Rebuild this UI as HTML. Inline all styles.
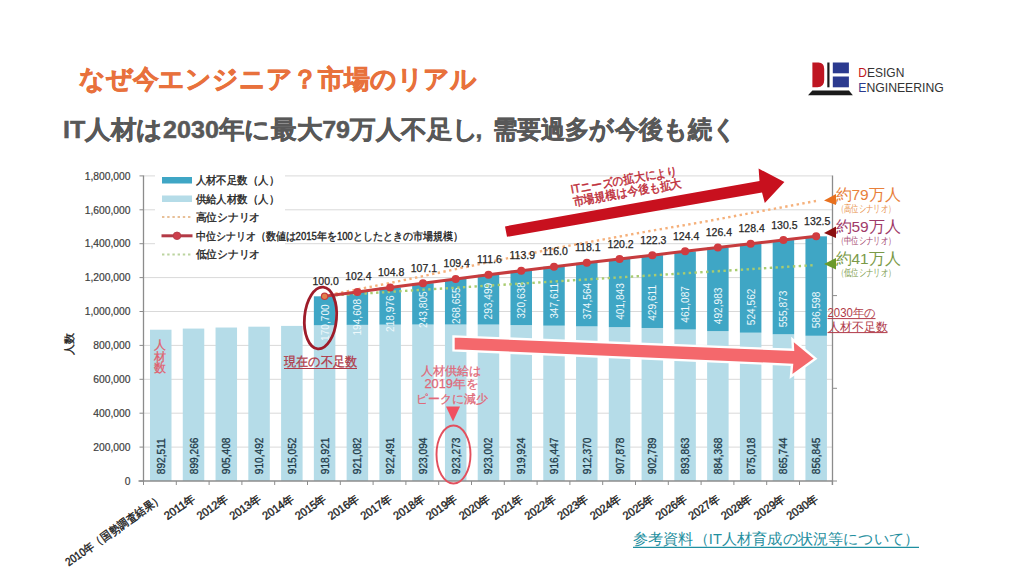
<!DOCTYPE html>
<html><head><meta charset="utf-8">
<style>
html,body{margin:0;padding:0;background:#fff;}
body{width:1024px;height:576px;overflow:hidden;position:relative;font-family:"Liberation Sans",sans-serif;}
.t{position:absolute;white-space:nowrap;line-height:1;}
</style></head><body>
<svg width="1024" height="576" viewBox="0 0 1024 576" style="position:absolute;left:0;top:0;">

<path d="M812.4,62.5 L818.5,62.5 Q824.2,62.5 824.2,69 L824.2,80 Q824.2,87.3 817.5,87.3 L812.4,87.3 Z" fill="#bf1622"/>
<rect x="827.3" y="62.5" width="2.2" height="24.8" fill="#1a1a1a"/>
<rect x="832.8" y="62.5" width="16.1" height="10.8" fill="#2b3a8f"/>
<rect x="832.8" y="76.5" width="16.1" height="10.8" fill="#2b3a8f"/>
<polygon points="812.4,90.6 849,90.6 852.8,95.3 808,95.3" fill="#1a1a1a"/>
<text x="858.3" y="77.4" font-size="12.2" fill="#333" font-family="Liberation Sans, sans-serif" textLength="46" lengthAdjust="spacingAndGlyphs"><tspan fill="#bf1622">D</tspan>ESIGN</text>
<text x="858.3" y="91.5" font-size="12.2" fill="#333" font-family="Liberation Sans, sans-serif" textLength="85.5" lengthAdjust="spacingAndGlyphs"><tspan fill="#2b3a8f">E</tspan>NGINEERING</text>

<text x="633" y="544.3" font-size="14.5" fill="#1f8fa0" textLength="286" lengthAdjust="spacingAndGlyphs" font-family="Liberation Sans, sans-serif">参考資料（IT人材育成の状況等について）</text>
<line x1="633" y1="547.4" x2="919" y2="547.4" stroke="#1f8fa0" stroke-width="1.3"/>
<text x="79" y="87.7" font-size="26.4" font-weight="bold" fill="#e8713c" stroke="#e8713c" stroke-width="0.6" textLength="398" lengthAdjust="spacingAndGlyphs" font-family="Liberation Sans, sans-serif">なぜ今エンジニア？市場のリアル</text>
<text x="63" y="137.8" font-size="24.5" font-weight="bold" fill="#585858" stroke="#585858" stroke-width="0.5" textLength="416" lengthAdjust="spacingAndGlyphs" font-family="Liberation Sans, sans-serif">IT人材は2030年に最大79万人不足し</text>
<text x="475.5" y="137.8" font-size="24.5" font-weight="bold" fill="#585858" stroke="#585858" stroke-width="0.5" font-family="Liberation Sans, sans-serif">,</text>
<text x="492.5" y="137.8" font-size="24.5" font-weight="bold" fill="#585858" stroke="#585858" stroke-width="0.5" textLength="245" lengthAdjust="spacingAndGlyphs" font-family="Liberation Sans, sans-serif">需要過多が今後も続く</text>
<line x1="143.5" y1="447.10" x2="832.5" y2="447.10" stroke="#d9d9d9" stroke-width="1"/>
<line x1="143.5" y1="413.20" x2="832.5" y2="413.20" stroke="#d9d9d9" stroke-width="1"/>
<line x1="143.5" y1="379.30" x2="832.5" y2="379.30" stroke="#d9d9d9" stroke-width="1"/>
<line x1="143.5" y1="345.40" x2="832.5" y2="345.40" stroke="#d9d9d9" stroke-width="1"/>
<line x1="143.5" y1="311.50" x2="832.5" y2="311.50" stroke="#d9d9d9" stroke-width="1"/>
<line x1="143.5" y1="277.60" x2="832.5" y2="277.60" stroke="#d9d9d9" stroke-width="1"/>
<line x1="143.5" y1="243.70" x2="832.5" y2="243.70" stroke="#d9d9d9" stroke-width="1"/>
<line x1="143.5" y1="209.80" x2="832.5" y2="209.80" stroke="#d9d9d9" stroke-width="1"/>
<line x1="143.5" y1="175.90" x2="832.5" y2="175.90" stroke="#d9d9d9" stroke-width="1"/>
<rect x="155" y="167" width="130" height="96" fill="#fff"/>
<rect x="150.00" y="329.72" width="21.5" height="151.28" fill="#b5dce8"/>
<rect x="182.77" y="328.57" width="21.5" height="152.43" fill="#b5dce8"/>
<rect x="215.54" y="327.53" width="21.5" height="153.47" fill="#b5dce8"/>
<rect x="248.32" y="326.67" width="21.5" height="154.33" fill="#b5dce8"/>
<rect x="281.09" y="325.90" width="21.5" height="155.10" fill="#b5dce8"/>
<rect x="313.86" y="325.24" width="21.5" height="155.76" fill="#b5dce8"/>
<rect x="313.86" y="296.31" width="21.5" height="28.93" fill="#3fa6c5"/>
<rect x="346.63" y="324.88" width="21.5" height="156.12" fill="#b5dce8"/>
<rect x="346.63" y="291.89" width="21.5" height="32.99" fill="#3fa6c5"/>
<rect x="379.40" y="324.64" width="21.5" height="156.36" fill="#b5dce8"/>
<rect x="379.40" y="287.52" width="21.5" height="37.12" fill="#3fa6c5"/>
<rect x="412.18" y="324.54" width="21.5" height="156.46" fill="#b5dce8"/>
<rect x="412.18" y="283.21" width="21.5" height="41.32" fill="#3fa6c5"/>
<rect x="444.95" y="324.51" width="21.5" height="156.49" fill="#b5dce8"/>
<rect x="444.95" y="278.97" width="21.5" height="45.54" fill="#3fa6c5"/>
<rect x="477.72" y="324.55" width="21.5" height="156.45" fill="#b5dce8"/>
<rect x="477.72" y="274.80" width="21.5" height="49.75" fill="#3fa6c5"/>
<rect x="510.49" y="325.07" width="21.5" height="155.93" fill="#b5dce8"/>
<rect x="510.49" y="270.72" width="21.5" height="54.35" fill="#3fa6c5"/>
<rect x="543.26" y="325.66" width="21.5" height="155.34" fill="#b5dce8"/>
<rect x="543.26" y="266.74" width="21.5" height="58.92" fill="#3fa6c5"/>
<rect x="576.04" y="326.35" width="21.5" height="154.65" fill="#b5dce8"/>
<rect x="576.04" y="262.86" width="21.5" height="63.49" fill="#3fa6c5"/>
<rect x="608.81" y="327.11" width="21.5" height="153.89" fill="#b5dce8"/>
<rect x="608.81" y="259.00" width="21.5" height="68.11" fill="#3fa6c5"/>
<rect x="641.58" y="327.98" width="21.5" height="153.02" fill="#b5dce8"/>
<rect x="641.58" y="255.16" width="21.5" height="72.82" fill="#3fa6c5"/>
<rect x="674.35" y="329.49" width="21.5" height="151.51" fill="#b5dce8"/>
<rect x="674.35" y="251.34" width="21.5" height="78.15" fill="#3fa6c5"/>
<rect x="707.12" y="331.10" width="21.5" height="149.90" fill="#b5dce8"/>
<rect x="707.12" y="247.54" width="21.5" height="83.56" fill="#3fa6c5"/>
<rect x="739.90" y="332.68" width="21.5" height="148.32" fill="#b5dce8"/>
<rect x="739.90" y="243.77" width="21.5" height="88.91" fill="#3fa6c5"/>
<rect x="772.67" y="334.26" width="21.5" height="146.74" fill="#b5dce8"/>
<rect x="772.67" y="240.04" width="21.5" height="94.22" fill="#3fa6c5"/>
<rect x="805.44" y="335.76" width="21.5" height="145.24" fill="#b5dce8"/>
<rect x="805.44" y="236.34" width="21.5" height="99.43" fill="#3fa6c5"/>
<line x1="143.5" y1="175.5" x2="143.5" y2="481.5" stroke="#8c8c8c" stroke-width="1.3"/>
<line x1="138.5" y1="481.0" x2="833" y2="481.0" stroke="#8c8c8c" stroke-width="1.5"/>
<line x1="832.5" y1="175.5" x2="832.5" y2="485.0" stroke="#8c8c8c" stroke-width="1.3"/>
<line x1="139.5" y1="481.00" x2="143.5" y2="481.00" stroke="#8c8c8c" stroke-width="1"/>
<line x1="139.5" y1="447.10" x2="143.5" y2="447.10" stroke="#8c8c8c" stroke-width="1"/>
<line x1="139.5" y1="413.20" x2="143.5" y2="413.20" stroke="#8c8c8c" stroke-width="1"/>
<line x1="139.5" y1="379.30" x2="143.5" y2="379.30" stroke="#8c8c8c" stroke-width="1"/>
<line x1="139.5" y1="345.40" x2="143.5" y2="345.40" stroke="#8c8c8c" stroke-width="1"/>
<line x1="139.5" y1="311.50" x2="143.5" y2="311.50" stroke="#8c8c8c" stroke-width="1"/>
<line x1="139.5" y1="277.60" x2="143.5" y2="277.60" stroke="#8c8c8c" stroke-width="1"/>
<line x1="139.5" y1="243.70" x2="143.5" y2="243.70" stroke="#8c8c8c" stroke-width="1"/>
<line x1="139.5" y1="209.80" x2="143.5" y2="209.80" stroke="#8c8c8c" stroke-width="1"/>
<line x1="139.5" y1="175.90" x2="143.5" y2="175.90" stroke="#8c8c8c" stroke-width="1"/>
<line x1="143.50" y1="481.0" x2="143.50" y2="485.0" stroke="#8c8c8c" stroke-width="1"/>
<line x1="176.30" y1="481.0" x2="176.30" y2="485.0" stroke="#8c8c8c" stroke-width="1"/>
<line x1="209.10" y1="481.0" x2="209.10" y2="485.0" stroke="#8c8c8c" stroke-width="1"/>
<line x1="241.90" y1="481.0" x2="241.90" y2="485.0" stroke="#8c8c8c" stroke-width="1"/>
<line x1="274.70" y1="481.0" x2="274.70" y2="485.0" stroke="#8c8c8c" stroke-width="1"/>
<line x1="307.50" y1="481.0" x2="307.50" y2="485.0" stroke="#8c8c8c" stroke-width="1"/>
<line x1="340.30" y1="481.0" x2="340.30" y2="485.0" stroke="#8c8c8c" stroke-width="1"/>
<line x1="373.10" y1="481.0" x2="373.10" y2="485.0" stroke="#8c8c8c" stroke-width="1"/>
<line x1="405.90" y1="481.0" x2="405.90" y2="485.0" stroke="#8c8c8c" stroke-width="1"/>
<line x1="438.70" y1="481.0" x2="438.70" y2="485.0" stroke="#8c8c8c" stroke-width="1"/>
<line x1="471.50" y1="481.0" x2="471.50" y2="485.0" stroke="#8c8c8c" stroke-width="1"/>
<line x1="504.30" y1="481.0" x2="504.30" y2="485.0" stroke="#8c8c8c" stroke-width="1"/>
<line x1="537.10" y1="481.0" x2="537.10" y2="485.0" stroke="#8c8c8c" stroke-width="1"/>
<line x1="569.90" y1="481.0" x2="569.90" y2="485.0" stroke="#8c8c8c" stroke-width="1"/>
<line x1="602.70" y1="481.0" x2="602.70" y2="485.0" stroke="#8c8c8c" stroke-width="1"/>
<line x1="635.50" y1="481.0" x2="635.50" y2="485.0" stroke="#8c8c8c" stroke-width="1"/>
<line x1="668.30" y1="481.0" x2="668.30" y2="485.0" stroke="#8c8c8c" stroke-width="1"/>
<line x1="701.10" y1="481.0" x2="701.10" y2="485.0" stroke="#8c8c8c" stroke-width="1"/>
<line x1="733.90" y1="481.0" x2="733.90" y2="485.0" stroke="#8c8c8c" stroke-width="1"/>
<line x1="766.70" y1="481.0" x2="766.70" y2="485.0" stroke="#8c8c8c" stroke-width="1"/>
<line x1="799.50" y1="481.0" x2="799.50" y2="485.0" stroke="#8c8c8c" stroke-width="1"/>
<line x1="832.30" y1="481.0" x2="832.30" y2="485.0" stroke="#8c8c8c" stroke-width="1"/>
<line x1="832.5" y1="481.00" x2="837" y2="481.00" stroke="#8c8c8c" stroke-width="1"/>
<line x1="832.5" y1="388.30" x2="837" y2="388.30" stroke="#8c8c8c" stroke-width="1"/>
<line x1="832.5" y1="295.60" x2="837" y2="295.60" stroke="#8c8c8c" stroke-width="1"/>
<line x1="832.5" y1="202.90" x2="837" y2="202.90" stroke="#8c8c8c" stroke-width="1"/>
<text x="130.5" y="484.70" text-anchor="end" font-size="10.3" fill="#404040" stroke="#404040" stroke-width="0.2" font-family="Liberation Sans, sans-serif">0</text>
<text x="130.5" y="450.80" text-anchor="end" font-size="10.3" fill="#404040" stroke="#404040" stroke-width="0.2" font-family="Liberation Sans, sans-serif">200,000</text>
<text x="130.5" y="416.90" text-anchor="end" font-size="10.3" fill="#404040" stroke="#404040" stroke-width="0.2" font-family="Liberation Sans, sans-serif">400,000</text>
<text x="130.5" y="383.00" text-anchor="end" font-size="10.3" fill="#404040" stroke="#404040" stroke-width="0.2" font-family="Liberation Sans, sans-serif">600,000</text>
<text x="130.5" y="349.10" text-anchor="end" font-size="10.3" fill="#404040" stroke="#404040" stroke-width="0.2" font-family="Liberation Sans, sans-serif">800,000</text>
<text x="130.5" y="315.20" text-anchor="end" font-size="10.3" fill="#404040" stroke="#404040" stroke-width="0.2" font-family="Liberation Sans, sans-serif">1,000,000</text>
<text x="130.5" y="281.30" text-anchor="end" font-size="10.3" fill="#404040" stroke="#404040" stroke-width="0.2" font-family="Liberation Sans, sans-serif">1,200,000</text>
<text x="130.5" y="247.40" text-anchor="end" font-size="10.3" fill="#404040" stroke="#404040" stroke-width="0.2" font-family="Liberation Sans, sans-serif">1,400,000</text>
<text x="130.5" y="213.50" text-anchor="end" font-size="10.3" fill="#404040" stroke="#404040" stroke-width="0.2" font-family="Liberation Sans, sans-serif">1,600,000</text>
<text x="130.5" y="179.60" text-anchor="end" font-size="10.3" fill="#404040" stroke="#404040" stroke-width="0.2" font-family="Liberation Sans, sans-serif">1,800,000</text>
<text transform="translate(73,355) rotate(-90)" font-size="11.2" fill="#222" stroke="#222" stroke-width="0.35" font-family="Liberation Sans, sans-serif">人数</text>
<text transform="translate(164.75,474.2) rotate(-90) scale(0.86,1)" font-size="11.8" fill="#1e3a48" stroke="#1e3a48" stroke-width="0.3" font-family="Liberation Sans, sans-serif">892,511</text>
<text transform="translate(197.52,474.2) rotate(-90) scale(0.86,1)" font-size="11.8" fill="#1e3a48" stroke="#1e3a48" stroke-width="0.3" font-family="Liberation Sans, sans-serif">899,266</text>
<text transform="translate(230.29,474.2) rotate(-90) scale(0.86,1)" font-size="11.8" fill="#1e3a48" stroke="#1e3a48" stroke-width="0.3" font-family="Liberation Sans, sans-serif">905,408</text>
<text transform="translate(263.07,474.2) rotate(-90) scale(0.86,1)" font-size="11.8" fill="#1e3a48" stroke="#1e3a48" stroke-width="0.3" font-family="Liberation Sans, sans-serif">910,492</text>
<text transform="translate(295.84,474.2) rotate(-90) scale(0.86,1)" font-size="11.8" fill="#1e3a48" stroke="#1e3a48" stroke-width="0.3" font-family="Liberation Sans, sans-serif">915,052</text>
<text transform="translate(328.61,474.2) rotate(-90) scale(0.86,1)" font-size="11.8" fill="#1e3a48" stroke="#1e3a48" stroke-width="0.3" font-family="Liberation Sans, sans-serif">918,921</text>
<text transform="translate(361.38,474.2) rotate(-90) scale(0.86,1)" font-size="11.8" fill="#1e3a48" stroke="#1e3a48" stroke-width="0.3" font-family="Liberation Sans, sans-serif">921,082</text>
<text transform="translate(394.15,474.2) rotate(-90) scale(0.86,1)" font-size="11.8" fill="#1e3a48" stroke="#1e3a48" stroke-width="0.3" font-family="Liberation Sans, sans-serif">922,491</text>
<text transform="translate(426.93,474.2) rotate(-90) scale(0.86,1)" font-size="11.8" fill="#1e3a48" stroke="#1e3a48" stroke-width="0.3" font-family="Liberation Sans, sans-serif">923,094</text>
<text transform="translate(459.70,474.2) rotate(-90) scale(0.86,1)" font-size="11.8" fill="#1e3a48" stroke="#1e3a48" stroke-width="0.3" font-family="Liberation Sans, sans-serif">923,273</text>
<text transform="translate(492.47,474.2) rotate(-90) scale(0.86,1)" font-size="11.8" fill="#1e3a48" stroke="#1e3a48" stroke-width="0.3" font-family="Liberation Sans, sans-serif">923,002</text>
<text transform="translate(525.24,474.2) rotate(-90) scale(0.86,1)" font-size="11.8" fill="#1e3a48" stroke="#1e3a48" stroke-width="0.3" font-family="Liberation Sans, sans-serif">919,924</text>
<text transform="translate(558.01,474.2) rotate(-90) scale(0.86,1)" font-size="11.8" fill="#1e3a48" stroke="#1e3a48" stroke-width="0.3" font-family="Liberation Sans, sans-serif">916,447</text>
<text transform="translate(590.79,474.2) rotate(-90) scale(0.86,1)" font-size="11.8" fill="#1e3a48" stroke="#1e3a48" stroke-width="0.3" font-family="Liberation Sans, sans-serif">912,370</text>
<text transform="translate(623.56,474.2) rotate(-90) scale(0.86,1)" font-size="11.8" fill="#1e3a48" stroke="#1e3a48" stroke-width="0.3" font-family="Liberation Sans, sans-serif">907,878</text>
<text transform="translate(656.33,474.2) rotate(-90) scale(0.86,1)" font-size="11.8" fill="#1e3a48" stroke="#1e3a48" stroke-width="0.3" font-family="Liberation Sans, sans-serif">902,789</text>
<text transform="translate(689.10,474.2) rotate(-90) scale(0.86,1)" font-size="11.8" fill="#1e3a48" stroke="#1e3a48" stroke-width="0.3" font-family="Liberation Sans, sans-serif">893,863</text>
<text transform="translate(721.87,474.2) rotate(-90) scale(0.86,1)" font-size="11.8" fill="#1e3a48" stroke="#1e3a48" stroke-width="0.3" font-family="Liberation Sans, sans-serif">884,368</text>
<text transform="translate(754.65,474.2) rotate(-90) scale(0.86,1)" font-size="11.8" fill="#1e3a48" stroke="#1e3a48" stroke-width="0.3" font-family="Liberation Sans, sans-serif">875,018</text>
<text transform="translate(787.42,474.2) rotate(-90) scale(0.86,1)" font-size="11.8" fill="#1e3a48" stroke="#1e3a48" stroke-width="0.3" font-family="Liberation Sans, sans-serif">865,744</text>
<text transform="translate(820.19,474.2) rotate(-90) scale(0.86,1)" font-size="11.8" fill="#1e3a48" stroke="#1e3a48" stroke-width="0.3" font-family="Liberation Sans, sans-serif">856,845</text>
<text transform="translate(328.61,341) rotate(-90) scale(0.86,1)" font-size="11.8" fill="#eef8fb" font-family="Liberation Sans, sans-serif">170,700</text>
<text transform="translate(361.38,335.6) rotate(-90) scale(0.86,1)" font-size="11.8" fill="#eef8fb" font-family="Liberation Sans, sans-serif">194,608</text>
<text transform="translate(394.15,332) rotate(-90) scale(0.86,1)" font-size="11.8" fill="#eef8fb" font-family="Liberation Sans, sans-serif">218,976</text>
<text transform="translate(426.93,328) rotate(-90) scale(0.86,1)" font-size="11.8" fill="#eef8fb" font-family="Liberation Sans, sans-serif">243,805</text>
<text transform="translate(459.70,324) rotate(-90) scale(0.86,1)" font-size="11.8" fill="#eef8fb" font-family="Liberation Sans, sans-serif">268,655</text>
<text transform="translate(492.47,319.5) rotate(-90) scale(0.86,1)" font-size="11.8" fill="#eef8fb" font-family="Liberation Sans, sans-serif">293,499</text>
<text transform="translate(525.24,318.8) rotate(-90) scale(0.86,1)" font-size="11.8" fill="#eef8fb" font-family="Liberation Sans, sans-serif">320,638</text>
<text transform="translate(558.01,318.8) rotate(-90) scale(0.86,1)" font-size="11.8" fill="#eef8fb" font-family="Liberation Sans, sans-serif">347,611</text>
<text transform="translate(590.79,319.5) rotate(-90) scale(0.86,1)" font-size="11.8" fill="#eef8fb" font-family="Liberation Sans, sans-serif">374,564</text>
<text transform="translate(623.56,319.8) rotate(-90) scale(0.86,1)" font-size="11.8" fill="#eef8fb" font-family="Liberation Sans, sans-serif">401,843</text>
<text transform="translate(656.33,320.8) rotate(-90) scale(0.86,1)" font-size="11.8" fill="#eef8fb" font-family="Liberation Sans, sans-serif">429,611</text>
<text transform="translate(689.10,322.7) rotate(-90) scale(0.86,1)" font-size="11.8" fill="#eef8fb" font-family="Liberation Sans, sans-serif">461,087</text>
<text transform="translate(721.87,324.2) rotate(-90) scale(0.86,1)" font-size="11.8" fill="#eef8fb" font-family="Liberation Sans, sans-serif">492,983</text>
<text transform="translate(754.65,325.2) rotate(-90) scale(0.86,1)" font-size="11.8" fill="#eef8fb" font-family="Liberation Sans, sans-serif">524,562</text>
<text transform="translate(787.42,327.3) rotate(-90) scale(0.86,1)" font-size="11.8" fill="#eef8fb" font-family="Liberation Sans, sans-serif">555,873</text>
<text transform="translate(820.19,328.3) rotate(-90) scale(0.86,1)" font-size="11.8" fill="#eef8fb" font-family="Liberation Sans, sans-serif">586,598</text>
<text transform="translate(163.75,500) rotate(-35)" text-anchor="end" font-size="11.5" fill="#222" stroke="#222" stroke-width="0.4" textLength="116" lengthAdjust="spacingAndGlyphs" font-family="Liberation Sans, sans-serif">2010年（国勢調査結果）</text>
<text transform="translate(196.52,500) rotate(-35)" text-anchor="end" font-size="11.5" fill="#222" stroke="#222" stroke-width="0.4" textLength="35.5" lengthAdjust="spacingAndGlyphs" font-family="Liberation Sans, sans-serif">2011年</text>
<text transform="translate(229.29,500) rotate(-35)" text-anchor="end" font-size="11.5" fill="#222" stroke="#222" stroke-width="0.4" textLength="35.5" lengthAdjust="spacingAndGlyphs" font-family="Liberation Sans, sans-serif">2012年</text>
<text transform="translate(262.07,500) rotate(-35)" text-anchor="end" font-size="11.5" fill="#222" stroke="#222" stroke-width="0.4" textLength="35.5" lengthAdjust="spacingAndGlyphs" font-family="Liberation Sans, sans-serif">2013年</text>
<text transform="translate(294.84,500) rotate(-35)" text-anchor="end" font-size="11.5" fill="#222" stroke="#222" stroke-width="0.4" textLength="35.5" lengthAdjust="spacingAndGlyphs" font-family="Liberation Sans, sans-serif">2014年</text>
<text transform="translate(327.61,500) rotate(-35)" text-anchor="end" font-size="11.5" fill="#222" stroke="#222" stroke-width="0.4" textLength="35.5" lengthAdjust="spacingAndGlyphs" font-family="Liberation Sans, sans-serif">2015年</text>
<text transform="translate(360.38,500) rotate(-35)" text-anchor="end" font-size="11.5" fill="#222" stroke="#222" stroke-width="0.4" textLength="35.5" lengthAdjust="spacingAndGlyphs" font-family="Liberation Sans, sans-serif">2016年</text>
<text transform="translate(393.15,500) rotate(-35)" text-anchor="end" font-size="11.5" fill="#222" stroke="#222" stroke-width="0.4" textLength="35.5" lengthAdjust="spacingAndGlyphs" font-family="Liberation Sans, sans-serif">2017年</text>
<text transform="translate(425.93,500) rotate(-35)" text-anchor="end" font-size="11.5" fill="#222" stroke="#222" stroke-width="0.4" textLength="35.5" lengthAdjust="spacingAndGlyphs" font-family="Liberation Sans, sans-serif">2018年</text>
<text transform="translate(458.70,500) rotate(-35)" text-anchor="end" font-size="11.5" fill="#222" stroke="#222" stroke-width="0.4" textLength="35.5" lengthAdjust="spacingAndGlyphs" font-family="Liberation Sans, sans-serif">2019年</text>
<text transform="translate(491.47,500) rotate(-35)" text-anchor="end" font-size="11.5" fill="#222" stroke="#222" stroke-width="0.4" textLength="35.5" lengthAdjust="spacingAndGlyphs" font-family="Liberation Sans, sans-serif">2020年</text>
<text transform="translate(524.24,500) rotate(-35)" text-anchor="end" font-size="11.5" fill="#222" stroke="#222" stroke-width="0.4" textLength="35.5" lengthAdjust="spacingAndGlyphs" font-family="Liberation Sans, sans-serif">2021年</text>
<text transform="translate(557.01,500) rotate(-35)" text-anchor="end" font-size="11.5" fill="#222" stroke="#222" stroke-width="0.4" textLength="35.5" lengthAdjust="spacingAndGlyphs" font-family="Liberation Sans, sans-serif">2022年</text>
<text transform="translate(589.79,500) rotate(-35)" text-anchor="end" font-size="11.5" fill="#222" stroke="#222" stroke-width="0.4" textLength="35.5" lengthAdjust="spacingAndGlyphs" font-family="Liberation Sans, sans-serif">2023年</text>
<text transform="translate(622.56,500) rotate(-35)" text-anchor="end" font-size="11.5" fill="#222" stroke="#222" stroke-width="0.4" textLength="35.5" lengthAdjust="spacingAndGlyphs" font-family="Liberation Sans, sans-serif">2024年</text>
<text transform="translate(655.33,500) rotate(-35)" text-anchor="end" font-size="11.5" fill="#222" stroke="#222" stroke-width="0.4" textLength="35.5" lengthAdjust="spacingAndGlyphs" font-family="Liberation Sans, sans-serif">2025年</text>
<text transform="translate(688.10,500) rotate(-35)" text-anchor="end" font-size="11.5" fill="#222" stroke="#222" stroke-width="0.4" textLength="35.5" lengthAdjust="spacingAndGlyphs" font-family="Liberation Sans, sans-serif">2026年</text>
<text transform="translate(720.87,500) rotate(-35)" text-anchor="end" font-size="11.5" fill="#222" stroke="#222" stroke-width="0.4" textLength="35.5" lengthAdjust="spacingAndGlyphs" font-family="Liberation Sans, sans-serif">2027年</text>
<text transform="translate(753.65,500) rotate(-35)" text-anchor="end" font-size="11.5" fill="#222" stroke="#222" stroke-width="0.4" textLength="35.5" lengthAdjust="spacingAndGlyphs" font-family="Liberation Sans, sans-serif">2028年</text>
<text transform="translate(786.42,500) rotate(-35)" text-anchor="end" font-size="11.5" fill="#222" stroke="#222" stroke-width="0.4" textLength="35.5" lengthAdjust="spacingAndGlyphs" font-family="Liberation Sans, sans-serif">2029年</text>
<text transform="translate(819.19,500) rotate(-35)" text-anchor="end" font-size="11.5" fill="#222" stroke="#222" stroke-width="0.4" textLength="35.5" lengthAdjust="spacingAndGlyphs" font-family="Liberation Sans, sans-serif">2030年</text>
<polyline points="324,296 397.5,281.5 466,267 559,247.5 650,231 700,222.5 816,201" fill="none" stroke="#f5b07a" stroke-width="2.4" stroke-dasharray="2.4 3.4"/>
<line x1="324" y1="296" x2="816" y2="265" stroke="#a9cc70" stroke-width="2.4" stroke-dasharray="2.4 3.4"/>
<polyline points="324.61,296.31 357.38,291.89 390.15,287.52 422.93,283.21 455.70,278.97 488.47,274.80 521.24,270.72 554.01,266.74 586.79,262.86 619.56,259.00 652.33,255.16 685.10,251.34 717.87,247.54 750.65,243.77 783.42,240.04 816.19,236.34" fill="none" stroke="#c63c3e" stroke-width="3"/>
<circle cx="324.61" cy="296.31" r="3.2" fill="#e0804a" stroke="#c63c3e" stroke-width="1.2"/>
<text x="325.61" y="284.81" text-anchor="middle" font-size="10.5" fill="#262626" stroke="#262626" stroke-width="0.25" font-family="Liberation Sans, sans-serif">100.0</text>
<circle cx="357.38" cy="291.89" r="4" fill="#d03c40"/>
<text x="358.38" y="280.39" text-anchor="middle" font-size="10.5" fill="#262626" stroke="#262626" stroke-width="0.25" font-family="Liberation Sans, sans-serif">102.4</text>
<circle cx="390.15" cy="287.52" r="4" fill="#d03c40"/>
<text x="391.15" y="276.02" text-anchor="middle" font-size="10.5" fill="#262626" stroke="#262626" stroke-width="0.25" font-family="Liberation Sans, sans-serif">104.8</text>
<circle cx="422.93" cy="283.21" r="4" fill="#d03c40"/>
<text x="423.93" y="271.71" text-anchor="middle" font-size="10.5" fill="#262626" stroke="#262626" stroke-width="0.25" font-family="Liberation Sans, sans-serif">107.1</text>
<circle cx="455.70" cy="278.97" r="4" fill="#d03c40"/>
<text x="456.70" y="267.47" text-anchor="middle" font-size="10.5" fill="#262626" stroke="#262626" stroke-width="0.25" font-family="Liberation Sans, sans-serif">109.4</text>
<circle cx="488.47" cy="274.80" r="4" fill="#d03c40"/>
<text x="489.47" y="263.30" text-anchor="middle" font-size="10.5" fill="#262626" stroke="#262626" stroke-width="0.25" font-family="Liberation Sans, sans-serif">111.6</text>
<circle cx="521.24" cy="270.72" r="4" fill="#d03c40"/>
<text x="522.24" y="259.22" text-anchor="middle" font-size="10.5" fill="#262626" stroke="#262626" stroke-width="0.25" font-family="Liberation Sans, sans-serif">113.9</text>
<circle cx="554.01" cy="266.74" r="4" fill="#d03c40"/>
<text x="555.01" y="255.24" text-anchor="middle" font-size="10.5" fill="#262626" stroke="#262626" stroke-width="0.25" font-family="Liberation Sans, sans-serif">116.0</text>
<circle cx="586.79" cy="262.86" r="4" fill="#d03c40"/>
<text x="587.79" y="251.36" text-anchor="middle" font-size="10.5" fill="#262626" stroke="#262626" stroke-width="0.25" font-family="Liberation Sans, sans-serif">118.1</text>
<circle cx="619.56" cy="259.00" r="4" fill="#d03c40"/>
<text x="620.56" y="247.50" text-anchor="middle" font-size="10.5" fill="#262626" stroke="#262626" stroke-width="0.25" font-family="Liberation Sans, sans-serif">120.2</text>
<circle cx="652.33" cy="255.16" r="4" fill="#d03c40"/>
<text x="653.33" y="243.66" text-anchor="middle" font-size="10.5" fill="#262626" stroke="#262626" stroke-width="0.25" font-family="Liberation Sans, sans-serif">122.3</text>
<circle cx="685.10" cy="251.34" r="4" fill="#d03c40"/>
<text x="686.10" y="239.84" text-anchor="middle" font-size="10.5" fill="#262626" stroke="#262626" stroke-width="0.25" font-family="Liberation Sans, sans-serif">124.4</text>
<circle cx="717.87" cy="247.54" r="4" fill="#d03c40"/>
<text x="718.87" y="236.04" text-anchor="middle" font-size="10.5" fill="#262626" stroke="#262626" stroke-width="0.25" font-family="Liberation Sans, sans-serif">126.4</text>
<circle cx="750.65" cy="243.77" r="4" fill="#d03c40"/>
<text x="751.65" y="232.27" text-anchor="middle" font-size="10.5" fill="#262626" stroke="#262626" stroke-width="0.25" font-family="Liberation Sans, sans-serif">128.4</text>
<circle cx="783.42" cy="240.04" r="4" fill="#d03c40"/>
<text x="784.42" y="228.54" text-anchor="middle" font-size="10.5" fill="#262626" stroke="#262626" stroke-width="0.25" font-family="Liberation Sans, sans-serif">130.5</text>
<circle cx="816.19" cy="236.34" r="4" fill="#d03c40"/>
<text x="817.19" y="224.84" text-anchor="middle" font-size="10.5" fill="#262626" stroke="#262626" stroke-width="0.25" font-family="Liberation Sans, sans-serif">132.5</text>
<rect x="162" y="177" width="30" height="6.5" fill="#3fa6c5"/>
<rect x="162" y="195.5" width="30" height="6.5" fill="#b5dce8"/>
<line x1="162" y1="217" x2="192" y2="217" stroke="#e8c098" stroke-width="2.2" stroke-dasharray="2.4 2.8"/>
<line x1="161.5" y1="235.8" x2="192.5" y2="235.8" stroke="#b33a46" stroke-width="3"/>
<circle cx="177" cy="235.8" r="3.8" fill="#cc3f4c" stroke="#b33a46" stroke-width="0.8"/>
<line x1="162" y1="254.5" x2="192" y2="254.5" stroke="#bcd4a0" stroke-width="2.2" stroke-dasharray="2.4 2.8"/>
<text x="195.5" y="184.30" font-size="10.5" fill="#222" stroke="#222" stroke-width="0.35" textLength="83.5" lengthAdjust="spacingAndGlyphs" font-family="Liberation Sans, sans-serif">人材不足数（人）</text>
<text x="195.5" y="202.80" font-size="10.5" fill="#222" stroke="#222" stroke-width="0.35" textLength="83.5" lengthAdjust="spacingAndGlyphs" font-family="Liberation Sans, sans-serif">供給人材数（人）</text>
<text x="195.5" y="221.30" font-size="10.5" fill="#222" stroke="#222" stroke-width="0.35" textLength="64.5" lengthAdjust="spacingAndGlyphs" font-family="Liberation Sans, sans-serif">高位シナリオ</text>
<text x="195.5" y="239.80" font-size="10.5" fill="#222" stroke="#222" stroke-width="0.35" textLength="267.5" lengthAdjust="spacingAndGlyphs" font-family="Liberation Sans, sans-serif">中位シナリオ（数値は2015年を100としたときの市場規模）</text>
<text x="195.5" y="258.30" font-size="10.5" fill="#222" stroke="#222" stroke-width="0.35" textLength="64.5" lengthAdjust="spacingAndGlyphs" font-family="Liberation Sans, sans-serif">低位シナリオ</text>
<ellipse cx="320.5" cy="318" rx="16" ry="31" fill="none" stroke="#9e1c2a" stroke-width="2.8" transform="rotate(5 320.5 318)"/>
<text x="284" y="366" font-size="12.5" fill="#b03a48" stroke="#b03a48" stroke-width="0.3" textLength="73" lengthAdjust="spacingAndGlyphs" font-family="Liberation Sans, sans-serif">現在の不足数</text>
<line x1="284" y1="368.5" x2="357" y2="368.5" stroke="#b03a48" stroke-width="1.2"/>
<text x="159.5" y="349.0" text-anchor="middle" font-size="11.5" fill="#e0606e" stroke="#e0606e" stroke-width="0.3" font-family="Liberation Sans, sans-serif">人</text>
<text x="159.5" y="360.5" text-anchor="middle" font-size="11.5" fill="#e0606e" stroke="#e0606e" stroke-width="0.3" font-family="Liberation Sans, sans-serif">材</text>
<text x="159.5" y="372.0" text-anchor="middle" font-size="11.5" fill="#e0606e" stroke="#e0606e" stroke-width="0.3" font-family="Liberation Sans, sans-serif">数</text>
<text x="421" y="375" font-size="12" fill="#e06878" stroke="#e06878" stroke-width="0.25" textLength="60.5" lengthAdjust="spacingAndGlyphs" font-family="Liberation Sans, sans-serif">人材供給は</text>
<text x="424.5" y="387.8" font-size="12" fill="#e06878" stroke="#e06878" stroke-width="0.25" textLength="54" lengthAdjust="spacingAndGlyphs" font-family="Liberation Sans, sans-serif">2019年を</text>
<text x="416" y="402.5" font-size="12" fill="#e06878" stroke="#e06878" stroke-width="0.25" textLength="71.5" lengthAdjust="spacingAndGlyphs" font-family="Liberation Sans, sans-serif">ピークに減少</text>
<polygon points="446,406.5 460,406.5 453,421.5" fill="#f05060"/>
<ellipse cx="453.5" cy="454.5" rx="17" ry="29" fill="none" stroke="#e2505e" stroke-width="1.9"/>
<polygon points="453.5,336.4 793,349.8 792.5,339.5 815.5,358.7 791,376.5 792,364.8 453.5,350.4" fill="#f4686c" stroke="#fff" stroke-width="2.4" stroke-linejoin="miter"/>
<polygon points="505,226.4 759.5,181 758.6,168.6 784.4,181.9 764.8,203 762,192.5 507,236.8" fill="#c8101e"/>
<text transform="translate(571.5,193.5) rotate(-10)" font-size="12" fill="#c0303c" stroke="#c0303c" stroke-width="0.45" textLength="108" lengthAdjust="spacingAndGlyphs" font-family="Liberation Sans, sans-serif">ITニーズの拡大により</text>
<text transform="translate(573.5,206) rotate(-10)" font-size="12" fill="#c0303c" stroke="#c0303c" stroke-width="0.45" textLength="110.5" lengthAdjust="spacingAndGlyphs" font-family="Liberation Sans, sans-serif">市場規模は今後も拡大</text>
<polygon points="836,194 836,205 824,200.5" fill="#e8701e"/>
<polygon points="836,226.5 836,238 824,233" fill="#8b1010"/>
<polygon points="836,258 836,269.5 824,264" fill="#6a9a2a"/>
<text x="835.5" y="199.8" font-size="15.5" fill="#e8803a" font-family="Liberation Sans, sans-serif">約79万人</text>
<text x="836.5" y="211.8" font-size="9.6" fill="#e8904a" textLength="59" lengthAdjust="spacingAndGlyphs" font-family="Liberation Sans, sans-serif">（高位シナリオ）</text>
<text x="835.5" y="232.3" font-size="15.5" fill="#a03a68" font-family="Liberation Sans, sans-serif">約59万人</text>
<text x="836.5" y="244.3" font-size="9.6" fill="#a03a68" textLength="59" lengthAdjust="spacingAndGlyphs" font-family="Liberation Sans, sans-serif">（中位シナリオ）</text>
<text x="835.5" y="263.8" font-size="15.5" fill="#7a9a48" font-family="Liberation Sans, sans-serif">約41万人</text>
<text x="836.5" y="276.3" font-size="9.6" fill="#7a9a48" textLength="59" lengthAdjust="spacingAndGlyphs" font-family="Liberation Sans, sans-serif">（低位シナリオ）</text>
<text x="827.5" y="317" font-size="12" fill="#b03a48" textLength="48" lengthAdjust="spacingAndGlyphs" font-family="Liberation Sans, sans-serif">2030年の</text>
<line x1="827.5" y1="318.6" x2="875.5" y2="318.6" stroke="#b03a48" stroke-width="1"/>
<text x="827.5" y="331" font-size="12" fill="#b03a48" textLength="60" lengthAdjust="spacingAndGlyphs" font-family="Liberation Sans, sans-serif">人材不足数</text>
<line x1="827.5" y1="332.6" x2="887.5" y2="332.6" stroke="#b03a48" stroke-width="1"/>
</svg>
</body></html>
